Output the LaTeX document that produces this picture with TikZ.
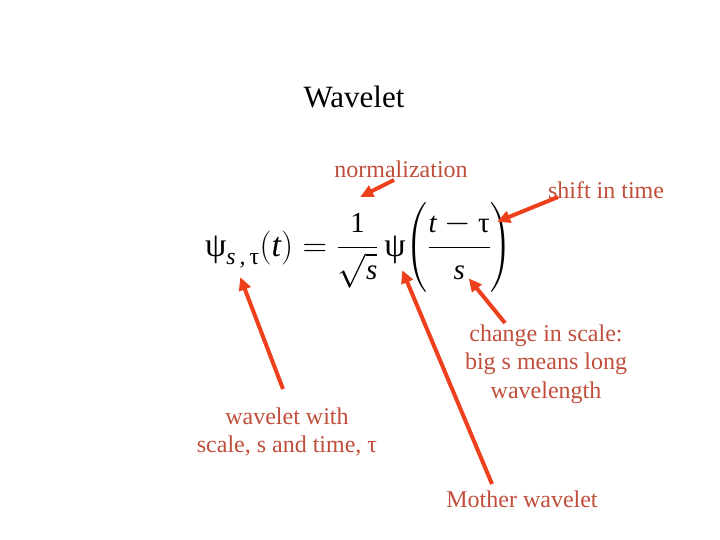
\RequirePackage{fix-cm}
\documentclass[tikz,border=0pt]{standalone}
\usepackage{fontspec}
\usepackage{amsmath}
\setmainfont{Liberation Serif}
\usetikzlibrary{arrows.meta}
\definecolor{labelred}{RGB}{192,78,58}
\definecolor{arrowred}{RGB}{238,64,28}
\newcommand{\fr}[1]{\text{\fontsize{29}{31}\selectfont #1}}
\tikzset{
  lbl/.style={text=labelred, font=\fontsize{24}{28.5}\selectfont, align=center, inner sep=0pt},
  pointer/.style={draw=arrowred, line width=4pt, -{Triangle[length=13pt,width=12pt]}, shorten >=-2pt}
}
\begin{document}
\begin{tikzpicture}[x=1pt,y=-1pt]
\useasboundingbox (0,0) rectangle (720,540);
\node[inner sep=0pt, font=\fontsize{31}{36}\selectfont] (title) at (354,97) {Wavelet};
\node[inner sep=0pt, anchor=base west, font=\fontsize{34}{40}\selectfont] (formula) at (205,256)
 {$\text{ψ}_{\text{\itshape s\,,\,}\text{τ}}(\text{\itshape t}) = \dfrac{\fr{1}}{\sqrt{\fr{\itshape s}}}\,\text{ψ}\!\left(\rule[-34pt]{0pt}{85pt}\dfrac{\fr{\itshape t}-\fr{τ}}{\fr{\itshape s}}\right)$};
\node[lbl] (norm) at (401,169) {normalization};
\node[lbl] (shift) at (606,190) {shift in time};
\node[lbl] (scale) at (546,364) {change in scale:\\big s means long\\wavelength};
\node[lbl] (wave) at (287,432) {wavelet with\\scale, s and time, τ};
\node[lbl] (mother) at (522,499) {Mother wavelet};
\coordinate (normT) at (394,180); \coordinate (normH) at (362,196);
\coordinate (shiftT) at (558,197); \coordinate (shiftH) at (499,221);
\coordinate (scaleT) at (505,323); \coordinate (scaleH) at (470,280);
\coordinate (waveT) at (283,389); \coordinate (waveH) at (241,279);
\coordinate (motherT) at (492,484); \coordinate (motherH) at (403,272);
\draw[pointer] (normT) -- (normH);
\draw[pointer] (shiftT) -- (shiftH);
\draw[pointer] (scaleT) -- (scaleH);
\draw[pointer] (waveT) -- (waveH);
\draw[pointer] (motherT) -- (motherH);
\end{tikzpicture}
\end{document}
